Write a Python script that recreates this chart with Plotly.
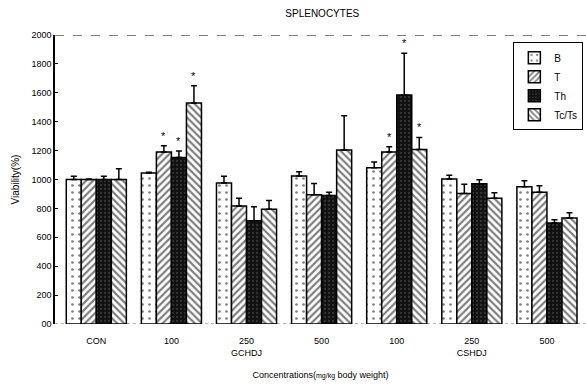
import plotly.graph_objects as go

categories = ["CON", "100", "250<br>GCHDJ", "500", "100", "250<br>CSHDJ", "500"]
series_names = ["B", "T", "Th", "Tc/Ts"]
B = [1000, 1045, 976, 1024, 1082, 1003, 950]
B_err = [23, 5, 46, 30, 39, 26, 42]
T = [1000, 1190, 817, 895, 1190, 903, 911]
T_err = [3, 44, 53, 78, 37, 64, 46]
Th = [1000, 1153, 715, 890, 1585, 971, 699]
Th_err = [23, 44, 97, 21, 288, 28, 23]
TcTs = [1000, 1529, 794, 1204, 1208, 871, 734]
TcTs_err = [75, 120, 60, 238, 83, 37, 36]
# significance marks: (category index, series index)
stars = [(1, 1), (1, 2), (1, 3), (4, 1), (4, 2), (4, 3)]
y_ticks = [0, 200, 400, 600, 800, 1000, 1200, 1400, 1600, 1800, 2000]
y_ticklabels = ["00", "200", "400", "600", "800", "1000", "1200", "1400", "1600", "1800", "2000"]

values = [B, T, Th, TcTs]
errors = [B_err, T_err, Th_err, TcTs_err]
styles = [
    dict(color="white", pattern=dict(shape=".", fgcolor="black", bgcolor="white", size=7, solidity=0.12)),
    dict(color="white", pattern=dict(shape="/", fgcolor="black", bgcolor="white", size=5, solidity=0.45)),
    dict(color="#111111", pattern=dict(shape=".", fgcolor="#555555", bgcolor="#111111", size=4, solidity=0.25)),
    dict(color="white", pattern=dict(shape="\\", fgcolor="black", bgcolor="white", size=5, solidity=0.45)),
]

xs = list(range(len(categories)))
fig = go.Figure()
for name, v, e, st in zip(series_names, values, errors, styles):
    fig.add_trace(go.Bar(
        x=xs, y=v, name=name,
        marker=dict(color=st["color"], pattern=st["pattern"], line=dict(color="black", width=1.5)),
        error_y=dict(type="data", array=e, arrayminus=[0] * len(e), symmetric=False,
                     color="black", thickness=1.5, width=3),
    ))

offsets = [-0.3, -0.1, 0.1, 0.3]
for ci, si in stars:
    fig.add_annotation(x=ci + offsets[si], y=values[si][ci] + errors[si][ci],
                       text="*", showarrow=False, yshift=10,
                       font=dict(size=11, color="black"))

fig.add_shape(type="line", xref="paper", yref="y", x0=0, x1=1, y0=2000, y1=2000,
              line=dict(color="black", width=1.2, dash="dash"))
fig.add_shape(type="line", xref="paper", yref="y", x0=0, x1=1, y0=0, y1=0,
              line=dict(color="#666666", width=1, dash="dot"), layer="below")

fig.update_layout(
    width=586, height=385,
    margin=dict(l=55, r=0, t=35, b=61),
    paper_bgcolor="white", plot_bgcolor="white",
    barmode="group", bargap=0.2, bargroupgap=0,
    font=dict(family="Liberation Sans, Arial, sans-serif", size=10, color="black"),
    title=dict(text="SPLENOCYTES", x=0.55, xanchor="center", y=0.965, yanchor="middle",
               font=dict(size=10)),
    showlegend=True,
    legend=dict(x=0.995, y=0.975, xanchor="right", yanchor="top",
                bordercolor="black", borderwidth=1, bgcolor="white",
                font=dict(size=10), tracegroupgap=0, itemwidth=30),
    xaxis=dict(tickvals=xs, ticktext=categories, range=[-0.55, 6.52],
               showline=False, ticks="", showgrid=False, zeroline=False,
               tickfont=dict(size=9), ticklabelstandoff=10,
               title=dict(text="Concentrations(<span style='font-size:7px'>mg/kg</span> body weight)",
                          font=dict(size=9), standoff=14)),
    yaxis=dict(range=[0, 2000], tickvals=y_ticks, ticktext=y_ticklabels,
               showline=True, linecolor="black", linewidth=1.5,
               ticks="inside", ticklen=3, tickcolor="black",
               showgrid=False, zeroline=False, tickfont=dict(size=9),
               title=dict(text="Viability(%)", font=dict(size=10), standoff=10)),
)

fig.write_html("out.html")
